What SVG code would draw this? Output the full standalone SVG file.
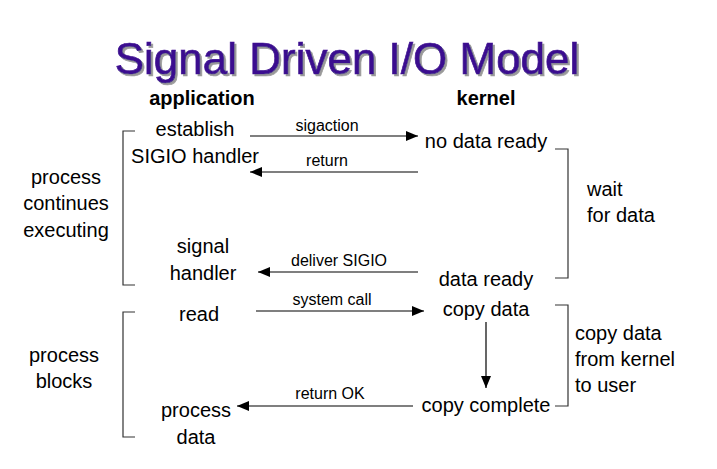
<svg xmlns="http://www.w3.org/2000/svg" width="717" height="469" viewBox="0 0 717 469">
  <style>
    text { font-family: "Liberation Sans", Arial, sans-serif; fill: #000; }
    .title { font-size: 44px; fill: #3b0a8f; stroke: #3b0a8f; stroke-width: 0.7; filter: url(#drop); }
    .head { font-size: 20px; font-weight: bold; }
    .t { font-size: 20px; }
    .lbl { font-size: 16px; }
    .mid { text-anchor: middle; }
    .arrow { stroke: #000; stroke-width: 1.2; fill: none; marker-end: url(#ah); }
    .brace { stroke: #333; stroke-width: 1.2; fill: none; }
  </style>
  <defs>
    <marker id="ah" viewBox="0 0 12 10" refX="12" refY="5" markerWidth="12" markerHeight="10" markerUnits="userSpaceOnUse" orient="auto">
      <path d="M0,0 L12,5 L0,10 z" fill="#000"/>
    </marker>
    <filter id="drop" x="-5%" y="-20%" width="110%" height="140%">
      <feDropShadow dx="2" dy="2" stdDeviation="0.4" flood-color="#999" flood-opacity="1"/>
    </filter>
  </defs>

  <rect width="717" height="469" fill="#fff"/>

  <!-- title with drop shadow -->
  <g id="title">
    <text class="title mid" x="347" y="74">Signal Driven I/O Model</text>
  </g>

  <!-- column headings -->
  <g id="col-application"><text class="head mid" x="202" y="105">application</text></g>
  <g id="col-kernel"><text class="head mid" x="486" y="105">kernel</text></g>

  <!-- application side -->
  <g id="establish"><text class="t mid" x="195" y="136">establish</text><text class="t mid" x="195" y="163">SIGIO handler</text></g>
  <g id="signal-handler"><text class="t mid" x="203" y="253">signal</text><text class="t mid" x="203" y="280">handler</text></g>
  <g id="read"><text class="t mid" x="199" y="321">read</text></g>
  <g id="process-data"><text class="t mid" x="196" y="417">process</text><text class="t mid" x="196" y="444">data</text></g>

  <!-- kernel side -->
  <g id="no-data-ready"><text class="t mid" x="486" y="148">no data ready</text></g>
  <g id="data-ready"><text class="t mid" x="486" y="286">data ready</text></g>
  <g id="copy-data"><text class="t mid" x="486" y="316">copy data</text></g>
  <g id="copy-complete"><text class="t mid" x="486" y="412">copy complete</text></g>

  <!-- phase annotations -->
  <g id="phase-continue">
    <path class="brace" d="M135,131 H123 V285 H135"/>
    <text class="t mid" x="66" y="184">process</text>
    <text class="t mid" x="66" y="210">continues</text>
    <text class="t mid" x="66" y="237">executing</text>
  </g>
  <g id="phase-blocks">
    <path class="brace" d="M135,312 H123 V437 H135"/>
    <text class="t mid" x="64" y="362">process</text>
    <text class="t mid" x="64" y="388">blocks</text>
  </g>
  <g id="phase-wait">
    <path class="brace" d="M555,149 H568 V278 H555"/>
    <text class="t" x="587" y="196">wait</text>
    <text class="t" x="587" y="222">for data</text>
  </g>
  <g id="phase-copy">
    <path class="brace" d="M555,305 H568 V406 H555"/>
    <text class="t" x="575" y="340">copy data</text>
    <text class="t" x="575" y="366">from kernel</text>
    <text class="t" x="575" y="392">to user</text>
  </g>

  <!-- connectors -->
  <g id="connectors">
    <path class="arrow" d="M250,136 H418"/>
    <text class="lbl mid" x="327" y="131">sigaction</text>
    <path class="arrow" d="M418,172 H250"/>
    <text class="lbl mid" x="327" y="166">return</text>
    <path class="arrow" d="M418,272 H258"/>
    <text class="lbl mid" x="339" y="266">deliver SIGIO</text>
    <path class="arrow" d="M256,311 H424"/>
    <text class="lbl mid" x="332" y="305">system call</text>
    <path class="arrow" d="M486,322 V388"/>
    <path class="arrow" d="M413,406 H237"/>
    <text class="lbl mid" x="330" y="399">return OK</text>
  </g>
</svg>
